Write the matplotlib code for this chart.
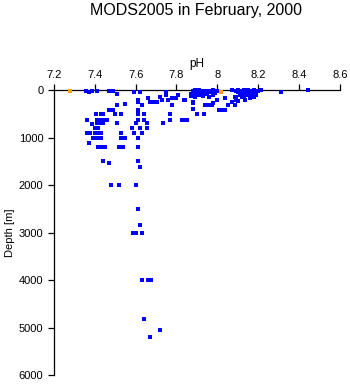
import numpy as np
import matplotlib
matplotlib.use("Agg")
import matplotlib.pyplot as plt

plt.rcParams['font.family'] = ['Liberation Sans', 'DejaVu Sans']

# blue stations: pH, depth [m]
ph = [
    # shallow, 7.87-8.00
    7.88, 7.89, 7.90, 7.91, 7.92, 7.93, 7.89, 7.90, 7.91, 7.87, 7.88, 7.92, 7.94,
    7.95, 7.96, 7.97, 7.98, 7.95, 7.93, 7.99, 7.96, 7.89, 7.91, 7.98, 8.00,
    # shallow, 8.07-8.22
    8.07, 8.09, 8.10, 8.11, 8.12, 8.13, 8.14, 8.15, 8.16, 8.17, 8.18, 8.19, 8.20,
    8.215, 8.10, 8.12, 8.14, 8.16, 8.18, 8.19, 8.11, 8.13, 8.15, 8.17, 8.19, 8.12,
    8.16, 8.18, 8.09, 8.31, 8.445,
    # near surface, low pH
    7.355, 7.37, 7.385, 7.41, 7.47, 7.49, 7.51, 7.59, 7.62,
    # 100-450 m
    7.61, 7.61, 7.66, 7.63, 7.67, 7.69, 7.705, 7.72, 7.73, 7.75, 7.75, 7.76, 7.78,
    7.78, 7.80, 7.81, 7.84, 7.87, 7.88, 7.94, 7.96, 7.98, 8.00, 8.01, 8.04, 8.04,
    8.07, 8.09, 7.835, 7.88, 7.88, 7.975, 8.02, 8.05, 8.085, 8.085, 8.10, 8.135,
    8.15, 8.17, 7.47, 7.49, 7.51, 7.55, 7.61,
    # 500-850 m
    7.405, 7.43, 7.44, 7.50, 7.53, 7.61, 7.64, 7.90, 7.935, 7.77,
    7.36, 7.41, 7.42, 7.44, 7.46, 7.61, 7.64, 7.77, 7.83, 7.85, 7.825,
    7.51, 7.385, 7.41, 7.43, 7.44, 7.60, 7.655, 7.735,
    7.58, 7.62, 7.655, 7.40, 7.415,
    # 900-1200 m
    7.36, 7.375, 7.40, 7.415, 7.43, 7.53, 7.59, 7.63,
    7.39, 7.40, 7.42, 7.43, 7.53, 7.55, 7.61,
    7.37, 7.415, 7.43, 7.45, 7.52, 7.54, 7.61,
    # deep
    7.44, 7.47, 7.61, 7.62, 7.48, 7.52, 7.60, 7.61, 7.62,
    7.585, 7.60, 7.63, 7.63, 7.66, 7.675, 7.64, 7.72, 7.67,
]
depth = [
    10, 5, 15, 5, 20, 10, 40, 60, 80, 90, 120, 70, 50,
    20, 10, 40, 5, 90, 130, 60, 140, 150, 110, 100, 20,
    5, 10, 5, 20, 10, 5, 15, 5, 20, 10, 5, 15, 10,
    5, 50, 60, 40, 70, 50, 80, 100, 120, 110, 130, 100, 150,
    160, 150, 140, 40, 5,
    10, 50, 20, 20, 10, 10, 90, 50, 30,
    210, 260, 160, 315, 260, 260, 260, 140, 210, 50, 100, 210, 175,
    315, 175, 110, 210, 120, 280, 315, 315, 280, 210, 410, 410, 160,
    260, 210, 210, 260, 400, 315, 410, 315, 315, 140, 230, 210,
    100, 130, 410, 410, 315, 290, 410,
    505, 505, 505, 505, 505, 505, 505, 505, 505, 505,
    620, 620, 620, 620, 620, 620, 620, 620, 620, 620, 620,
    700, 710, 700, 700, 700, 700, 700, 700,
    805, 805, 805, 805, 805,
    910, 910, 910, 910, 910, 910, 910, 910,
    1015, 1015, 1015, 1015, 1015, 1015, 1015,
    1120, 1200, 1200, 1200, 1200, 1200, 1200,
    1500, 1525, 1500, 1630, 2005, 2005, 2005, 2510, 2850,
    3000, 3000, 3000, 4000, 4000, 4000, 4810, 5050, 5200,
]

# highlighted (orange) stations
ph_sel = [7.28, 8.02]
depth_sel = [20, 35]

xticks = [7.2, 7.4, 7.6, 7.8, 8.0, 8.2, 8.4, 8.6]
xticklabels = ['7.2', '7.4', '7.6', '7.8', '8', '8.2', '8.4', '8.6']
yticks = [0, 1000, 2000, 3000, 4000, 5000, 6000]

fig = plt.figure(figsize=(3.5, 3.84), dpi=100)
ax = fig.add_axes([0.154, 0.0234, 0.817, 0.742])

ax.scatter(ph, depth, s=5, marker='s', color='#0000ff', linewidths=0,
           clip_on=False, zorder=3)
ax.scatter(ph_sel, depth_sel, s=8, marker='s', color='#ffa000', linewidths=0,
           clip_on=False, zorder=4)

ax.set_xlim(7.2, 8.6)
ax.set_ylim(6000, 0)
ax.set_xticks(xticks)
ax.set_xticklabels(xticklabels)
ax.set_yticks(yticks)

ax.xaxis.tick_top()
ax.xaxis.set_label_position('top')
ax.spines['bottom'].set_visible(False)
ax.spines['right'].set_visible(False)
for s in ('top', 'left'):
    ax.spines[s].set_linewidth(0.9)
ax.tick_params(axis='both', direction='out', length=4, width=0.9, labelsize=8, pad=3.5)

ax.set_xlabel('pH', fontsize=8.5, labelpad=2)
ax.set_ylabel('Depth [m]', fontsize=8, labelpad=3)

fig.text(0.56, 0.972, 'MODS2005 in February, 2000', ha='center', va='center', fontsize=11.5)

fig.savefig('out.png', dpi=100)
